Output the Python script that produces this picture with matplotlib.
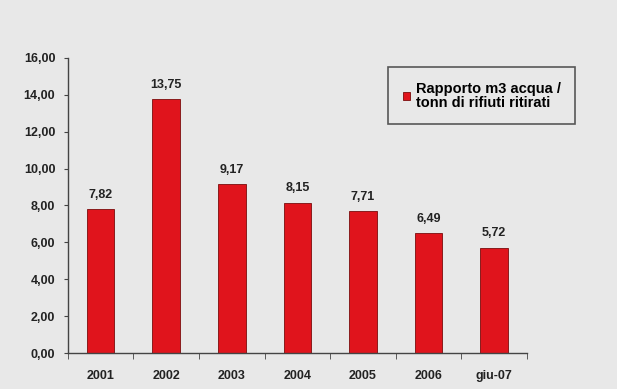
import matplotlib.pyplot as plt
import numpy as np

categories = ['2001', '2002', '2003', '2004', '2005', '2006', 'giu-07']
values = [7.82, 13.75, 9.17, 8.15, 7.71, 6.49, 5.72]
series_name = 'Rapporto m3 acqua /\ntonn di rifiuti ritirati'

bg = '#e8e8e8'
plt.rcParams['font.family'] = ['Liberation Sans', 'DejaVu Sans']

fig = plt.figure(figsize=(6.17, 3.89), dpi=100, facecolor=bg)
ax = fig.add_axes([0.110, 0.0925, 0.744, 0.7585], facecolor=bg)

x = np.arange(len(categories))
bars = ax.bar(x, values, width=0.42, color='#e0141c', edgecolor='#7a0c0c',
              linewidth=0.6, label=series_name)

for xi, v in zip(x, values):
    ax.text(xi, v + 0.45, f'{v:.2f}'.replace('.', ','), ha='center', va='bottom',
            fontsize=9, fontweight='bold', color='#222222')

ax.set_xlim(-0.5, len(categories) - 0.5)
ax.set_ylim(0, 16)
ax.set_yticks(np.arange(0, 16.1, 2))
ax.set_yticklabels([f'{t:.2f}'.replace('.', ',') for t in np.arange(0, 16.1, 2)])
ax.set_xticks(x)
ax.set_xticklabels(categories)
ax.set_xticks(np.arange(-0.5, len(categories), 1), minor=True)
ax.tick_params(axis='x', which='major', length=0, pad=12)
ax.tick_params(axis='x', which='minor', length=4, direction='out', color='#444444')
ax.tick_params(axis='y', length=3, direction='out', color='#444444', pad=6)
for lbl in ax.get_xticklabels() + ax.get_yticklabels():
    lbl.set_fontsize(9)
    lbl.set_fontweight('bold')
    lbl.set_color('#222222')

for s in ['top', 'right']:
    ax.spines[s].set_visible(False)
for s in ['left', 'bottom']:
    ax.spines[s].set_color('#444444')
    ax.spines[s].set_linewidth(1.0)

leg = fig.legend(loc='upper left', bbox_to_anchor=(388 / 617, 1 - 67 / 389),
                 frameon=True, fancybox=False, edgecolor='#333333',
                 facecolor=bg, prop={'size': 10.5, 'weight': 'bold'},
                 handlelength=0.5, handleheight=0.5, handletextpad=0.4,
                 borderpad=1.0, labelspacing=0.2, borderaxespad=0)
leg.get_texts()[0].set_linespacing(1.0)
leg.get_frame().set_linewidth(1.2)

fig.savefig('out.png', dpi=100, facecolor=bg)
